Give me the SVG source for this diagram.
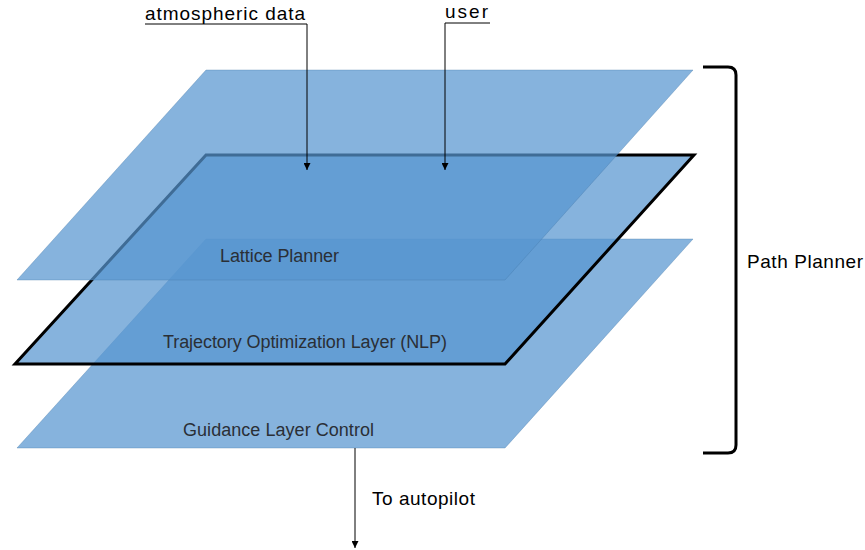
<svg xmlns="http://www.w3.org/2000/svg" width="865" height="550" viewBox="0 0 865 550">
  <style>
    .plane { fill: rgb(87,149,208); fill-opacity: 0.72; }
    .soft { stroke: rgb(70,120,170); stroke-opacity: 0.35; stroke-width: 1; }
    .bold { stroke: #000; stroke-width: 3; stroke-linejoin: miter; }
    .layer-label { font-family: "Liberation Sans", Arial, sans-serif; font-size: 18px; fill: #2a2f36; }
    .label { font-family: "Liberation Sans", Arial, sans-serif; font-size: 19px; fill: #000; }
    .wire { fill: none; stroke: #000; stroke-width: 1; }
  </style>
  <defs>
    <marker id="arrow" viewBox="0 0 10 10" refX="10" refY="5" markerWidth="7" markerHeight="7" orient="auto" markerUnits="userSpaceOnUse">
      <path d="M0,0 L10,5 L0,10 z" fill="#000"/>
    </marker>
  </defs>

  <rect width="865" height="550" fill="#fff"/>

  <!-- lowest layer -->
  <g id="guidance-layer">
    <polygon class="plane soft" points="206,239 693,239 505,448 17,448"/>
    <text class="layer-label" x="183" y="436" textLength="191" lengthAdjust="spacing">Guidance Layer Control</text>
  </g>

  <!-- middle layer, outlined -->
  <g id="trajectory-layer">
    <polygon class="plane bold" points="206,155 694,155 505,364 15,364"/>
    <text class="layer-label" x="163" y="348" textLength="284" lengthAdjust="spacing">Trajectory Optimization Layer (NLP)</text>
  </g>

  <!-- top layer -->
  <g id="lattice-layer">
    <polygon class="plane soft" points="206,70 693,70 505,280 17,280"/>
    <text class="layer-label" x="220" y="262" textLength="119" lengthAdjust="spacing">Lattice Planner</text>
  </g>

  <!-- inputs and output -->
  <g id="connectors">
    <path class="wire" d="M145,24 H307 V170" marker-end="url(#arrow)"/>
    <path class="wire" d="M490,23 H445 V170" marker-end="url(#arrow)"/>
    <path class="wire" d="M355,448 V548" marker-end="url(#arrow)"/>
  </g>

  <g id="input-atmospheric">
    <text class="label" x="145" y="20" textLength="160" lengthAdjust="spacing">atmospheric data</text>
  </g>
  <g id="input-user">
    <text class="label" x="445" y="18" textLength="43" lengthAdjust="spacing">user</text>
  </g>
  <g id="output-autopilot">
    <text class="label" x="372" y="505" textLength="103" lengthAdjust="spacing">To autopilot</text>
  </g>

  <!-- bracket grouping the three layers -->
  <g id="path-planner">
    <path d="M703,67 H728 Q736,67 736,75 V445 Q736,453 728,453 H703" fill="none" stroke="#000" stroke-width="3"/>
    <text class="label" x="747" y="268" textLength="116" lengthAdjust="spacing">Path Planner</text>
  </g>
</svg>
